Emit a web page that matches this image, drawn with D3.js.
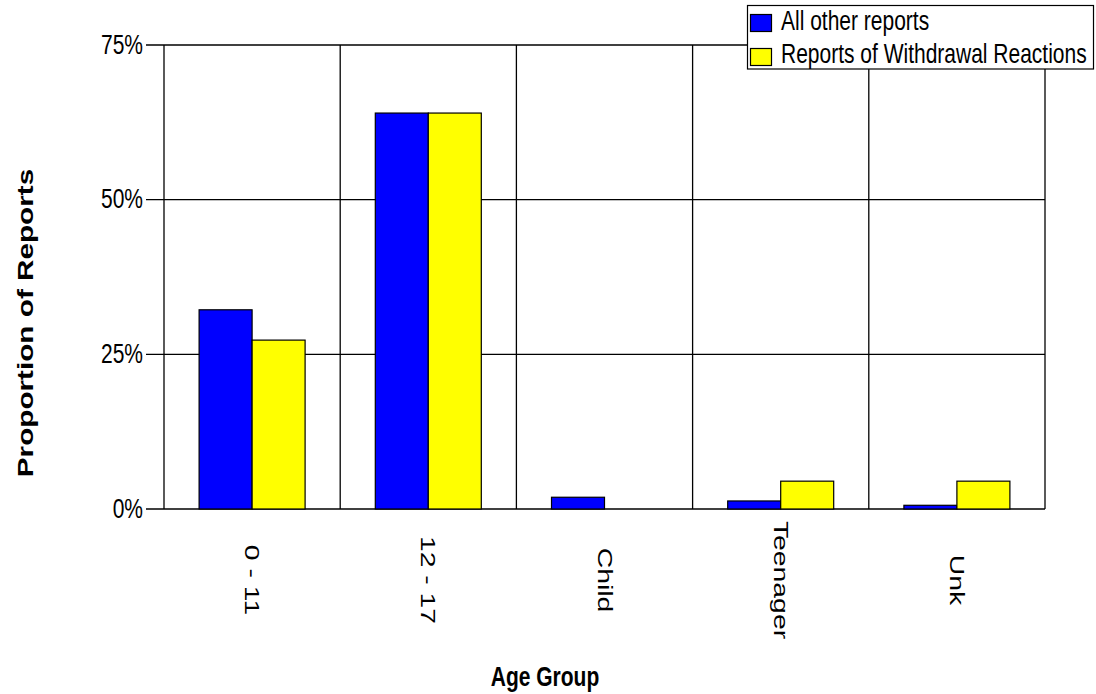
<!DOCTYPE html>
<html><head><meta charset="utf-8">
<script src="https://cdn.jsdelivr.net/npm/d3@7"></script>
<style>body{margin:0;background:#fff}svg{display:block}text{font-family:"Liberation Sans",Arial,sans-serif}</style>
</head><body><svg id="c" width="1096" height="694"></svg>
<script>
const categories = ["0 - 11", "12 - 17", "Child", "Teenager", "Unk"];
const seriesNames = ["All other reports", "Reports of Withdrawal Reactions"];
const allOther = [32.2, 64.0, 1.9, 1.3, 0.6];
const withdrawal = [27.3, 64.0, 0, 4.5, 4.5];
const yTicks = [0, 25, 50, 75];
const colors = ["#0000FF", "#FFFF00"];
const SY = 1.35;

const svg = d3.select("#c");
const L = 164, R = 1045, T = 45, B = 509;
const x = d3.scaleBand().domain(categories).range([L, R]).padding(0);
const y = d3.scaleLinear().domain([0, 75]).range([B, T]);
const inner = d3.scaleBand().domain([0, 1]).range([-53, 53]).padding(0);

// horizontal gridlines + ticks
svg.append("g").selectAll("line").data(yTicks).join("line")
  .attr("x1", L - 18).attr("x2", R).attr("y1", d => y(d)).attr("y2", d => y(d))
  .attr("stroke", "#000").attr("stroke-width", 1.3);
// vertical gridlines
svg.append("g").selectAll("line").data(categories).join("line")
  .attr("x1", d => x(d)).attr("x2", d => x(d)).attr("y1", T).attr("y2", B)
  .attr("stroke", "#000").attr("stroke-width", 1.3);
svg.append("line").attr("x1", R).attr("x2", R).attr("y1", T).attr("y2", B)
  .attr("stroke", "#000").attr("stroke-width", 1.3);

// y tick labels
svg.append("g").selectAll("text").data(yTicks).join("text")
  .attr("transform", d => `translate(143,${y(d) + 8.5}) scale(1,${SY})`)
  .attr("text-anchor", "end").attr("font-size", 21).attr("fill", "#000")
  .text(d => d + "%");

// bars
const data = [allOther, withdrawal];
data.forEach((vals, si) => {
  svg.append("g").selectAll("rect").data(categories).join("rect")
    .attr("x", (c) => x(c) + x.bandwidth() / 2 + inner(si))
    .attr("width", inner.bandwidth())
    .attr("y", (c, i) => y(vals[i]))
    .attr("height", (c, i) => B - y(vals[i]))
    .attr("fill", colors[si]).attr("stroke", "#000").attr("stroke-width", 1.2)
    .attr("display", (c, i) => vals[i] > 0 ? null : "none");
});

// x labels
svg.append("g").selectAll("text").data(categories).join("text")
  .attr("transform", d => `translate(${x(d) + x.bandwidth() / 2 - 7},580) scale(1,${SY}) rotate(90)`)
  .attr("text-anchor", "middle").attr("font-size", 21).attr("fill", "#000")
  .text(d => d);

// axis titles
svg.append("text")
  .attr("transform", `translate(545,686) scale(1,${SY})`)
  .attr("text-anchor", "middle").attr("font-size", 21).attr("font-weight", "bold")
  .text("Age Group");
svg.append("text")
  .attr("transform", `translate(33,323) scale(1,${SY}) rotate(-90)`)
  .attr("text-anchor", "middle").attr("font-size", 22).attr("font-weight", "bold")
  .text("Proportion of Reports");

// legend
const lg = svg.append("g");
lg.append("rect").attr("x", 747.5).attr("y", 5.5).attr("width", 346).attr("height", 63.5)
  .attr("fill", "#fff").attr("stroke", "#000").attr("stroke-width", 1.2);
seriesNames.forEach((n, i) => {
  lg.append("rect").attr("x", 750.5).attr("y", 14.5 + i * 34).attr("width", 21).attr("height", 17)
    .attr("fill", colors[i]).attr("stroke", "#000").attr("stroke-width", 1.2);
  lg.append("text").attr("transform", `translate(781,${30 + i * 33}) scale(1,${SY})`)
    .attr("font-size", 21).text(n);
});
</script></body></html>
